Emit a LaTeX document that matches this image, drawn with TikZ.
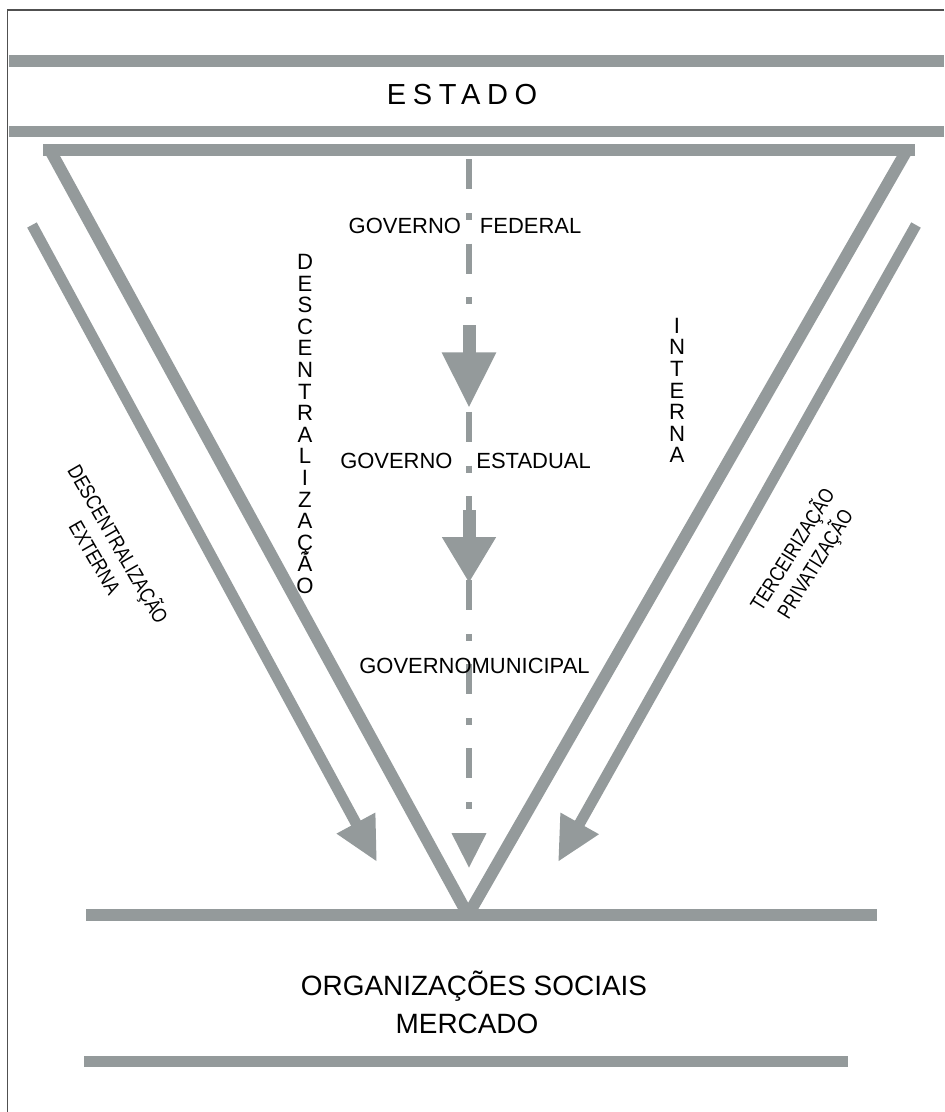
\documentclass[tikz,border=0pt]{standalone}
\usepackage{fontspec}
\setmainfont{Liberation Sans}
\newfontfamily\narrowfont[FakeStretch=0.82]{Liberation Sans}
\newfontfamily\spacedfont[LetterSpace=23]{Liberation Sans}
\usetikzlibrary{arrows.meta}
\definecolor{bargray}{RGB}{148,154,155}
\definecolor{framegray}{RGB}{80,80,80}
\newcommand{\tightlines}{\lineskiplimit-20pt\relax}

\begin{document}
\begin{tikzpicture}[x=0.02cm, y=-0.02cm,
    bar/.style={line width=6.8pt, bargray},
    slant/.style={line width=6.2pt, bargray, -{Triangle[length=25.2pt,width=23.2pt]}},
    down/.style 2 args={line width=7.4pt, bargray, -{Triangle[length=#1,width=#2]}},
    axis/.style={line width=3.97pt, bargray, dash pattern=on 17pt off 13.6pt on 3.97pt off 13.32pt, dash phase=45.9pt},
    level/.style={font=\fontsize{12.5}{15}\selectfont, anchor=base, inner sep=0pt},
    stack/.style={align=center, inner sep=0pt, font={\fontsize{12.6}{12.3}\selectfont\tightlines}},
    slanttext/.style={align=center, inner sep=0pt, font={\narrowfont\fontsize{11.9}{15.2}\selectfont}},
    big/.style={font=\fontsize{15.9}{18}\selectfont, anchor=base, inner sep=0pt}]
  \useasboundingbox (0,0) rectangle (944,1112);
  \draw[framegray, line width=1.13pt] (7.5,1112) -- (7.5,10) -- (944,10);

  \draw[bar] (9,61) -- (944,61);
  \draw[bar] (9,131.5) -- (944,131.5);
  \node[font=\spacedfont\fontsize{16.5}{18}\selectfont, anchor=base, inner sep=0pt] (estado) at (462,104) {ESTADO};

  \coordinate (tl) at (50,150);
  \coordinate (tr) at (907,150);
  \coordinate (apex) at (468,915);
  \coordinate (top) at (469,156);
  \coordinate (bottom) at (469,868);
  \draw[bar] (43,150) -- (915,150);
  \draw[bar] (tl) -- (apex);
  \draw[bar] (tr) -- (apex);
  \draw[bar] (86,915) -- (877,915);
  \draw[bar] (84,1061.5) -- (848,1061.5);

  \draw[axis, -{Triangle[length=19.8pt,width=18.7pt]}] (top) -- (bottom);
  \coordinate (a1) at (469,325);
  \coordinate (b1) at (469,408);
  \coordinate (a2) at (469,510);
  \coordinate (b2) at (469,583);
  \draw[down={31.7pt}{28.9pt}] (a1) -- (b1);
  \draw[down={26.1pt}{28.9pt}] (a2) -- (b2);

  \coordinate (ls) at (32,225);
  \coordinate (le) at (377,862);
  \coordinate (rs) at (916,225);
  \coordinate (re) at (558,862);
  \draw[slant] (ls) -- (le);
  \draw[slant] (rs) -- (re);

  \node[level] (fed) at (465,233.5) {GOVERNO\hspace{10.8pt}FEDERAL};
  \node[level] (est) at (465.5,468) {GOVERNO\hspace{13.6pt}ESTADUAL};
  \node[level] (mun) at (474.5,673) {GOVERNO\hspace{0pt}MUNICIPAL};

  \node[stack] (desc) at (305,424) {D\\E\\S\\C\\E\\N\\T\\R\\A\\L\\I\\Z\\A\\Ç\\Ã\\O};
  \node[stack] (int) at (677,390.5) {I\\N\\T\\E\\R\\N\\A};

  \node[slanttext, rotate=-60] (ext) at (108,550) {DESCENTRALIZAÇÃO\\EXTERNA};
  \node[slanttext, rotate=58] (priv) at (804,557) {TERCEIRIZAÇÃO\\PRIVATIZAÇÃO};

  \node[big] (org) at (474,995) {ORGANIZAÇÕES SOCIAIS};
  \node[big] (mer) at (467,1033) {MERCADO};
\end{tikzpicture}
\end{document}
